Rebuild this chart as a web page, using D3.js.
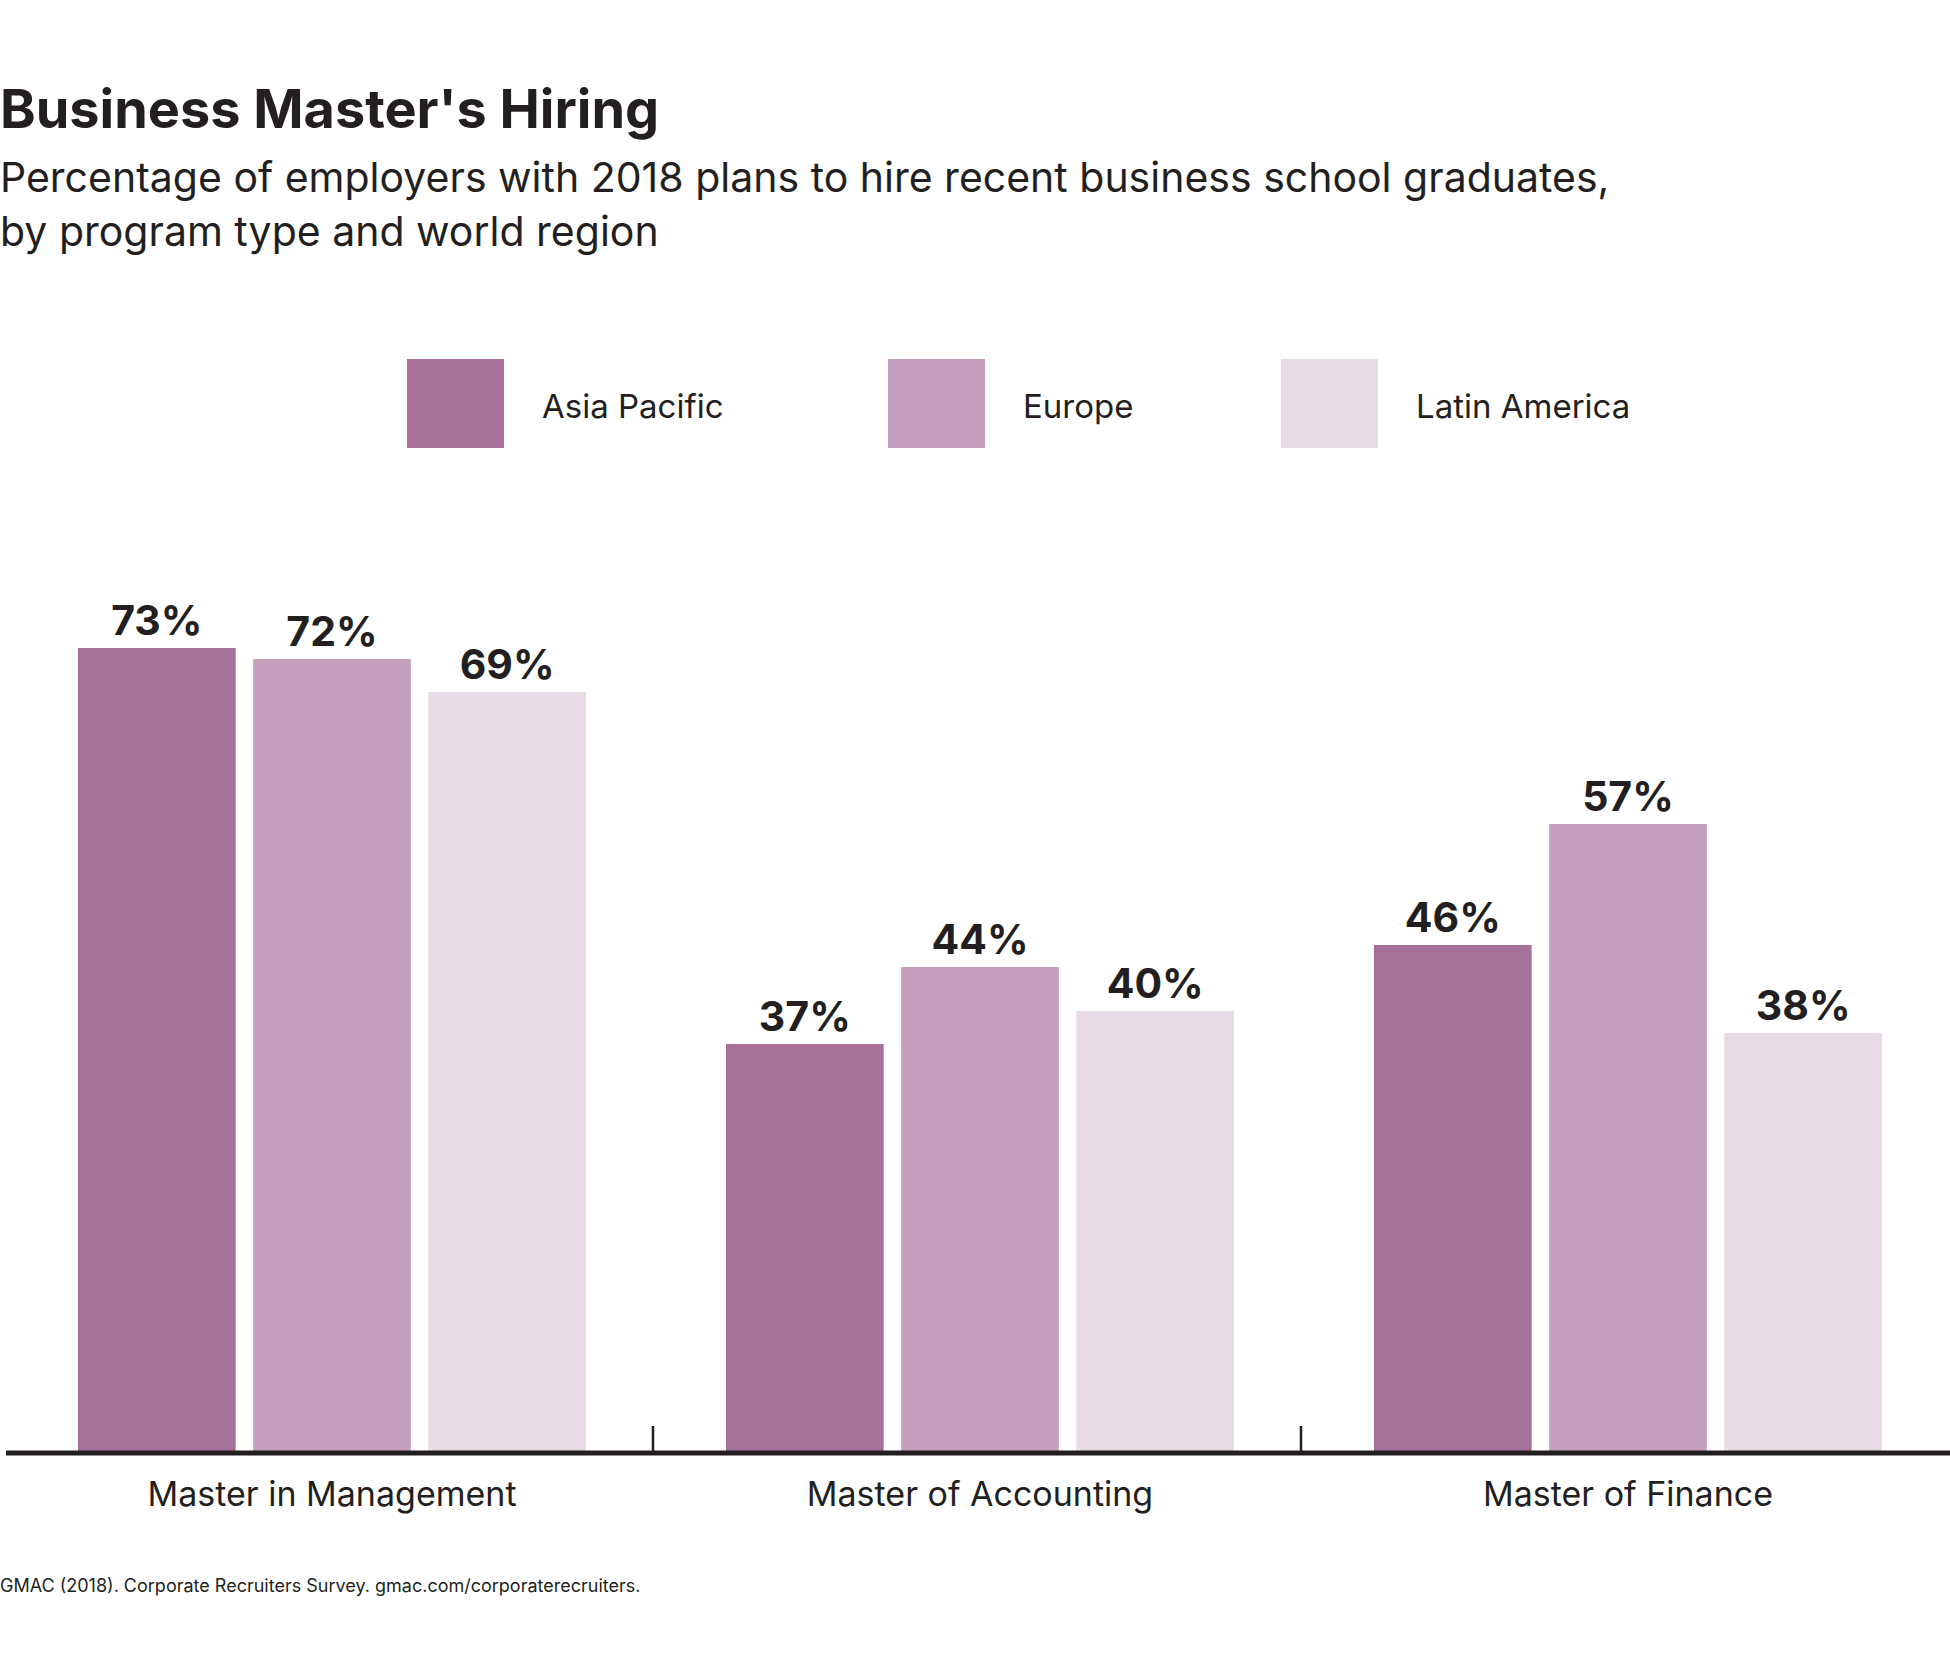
<!DOCTYPE html>
<html><head><meta charset="UTF-8">
<script src="https://d3js.org/d3.v7.min.js"></script>
<style>body{margin:0;background:#fff}text{font-family:Inter,"Noto Sans",sans-serif;fill:#231f20}</style>
</head><body><svg id="c" width="1950" height="1668"></svg>
<script>
const categories = ["Master in Management", "Master of Accounting", "Master of Finance"];
const regions = ["Asia Pacific", "Europe", "Latin America"];
const asiaPacific = [73, 37, 46];
const europe = [72, 44, 57];
const latinAmerica = [69, 40, 38];
const colors = ["#a67099", "#c4a0bc", "#e8dbe5"];
const series = [asiaPacific, europe, latinAmerica];

const svg = d3.select("#c");
const base = 1451;
const x = d3.scaleBand().domain(categories).range([6, 1950]).paddingInner(0).paddingOuter(0);
const x1 = d3.scaleBand().domain(regions).range([72, 580]).paddingInner(0.1);
const y = d3.scaleLinear().domain([0, 100]).range([base, base - 1100]);

svg.append("text").attr("x", 0).attr("y", 128).attr("font-size", 54).attr("font-weight", 700).text("Business Master's Hiring");
svg.append("text").attr("x", 0).attr("y", 192).attr("font-size", 41).text("Percentage of employers with 2018 plans to hire recent business school graduates,");
svg.append("text").attr("x", 0).attr("y", 246).attr("font-size", 41).text("by program type and world region");

const legX = [407, 888, 1281];
regions.forEach((r, i) => {
  svg.append("rect").attr("x", legX[i]).attr("y", 359).attr("width", 97).attr("height", 89).attr("fill", colors[i]);
  svg.append("text").attr("x", legX[i] + 135).attr("y", 418).attr("font-size", 33).text(r);
});

categories.forEach((c, ci) => {
  const off = ci * 648 + 6;
  series.forEach((s, si) => {
    const bx = off + x1(regions[si]);
    svg.append("rect").attr("x", bx).attr("y", y(s[ci])).attr("width", x1.bandwidth()).attr("height", base - y(s[ci])).attr("fill", colors[si]);
    svg.append("text").attr("x", bx + x1.bandwidth() / 2).attr("y", y(s[ci]) - 13).attr("text-anchor", "middle")
      .attr("font-size", 41).attr("font-weight", 700).text(s[ci] + "%");
  });
  svg.append("text").attr("x", off + 326).attr("y", 1506).attr("text-anchor", "middle").attr("font-size", 34).text(c);
});

svg.append("line").attr("x1", 6).attr("x2", 1950).attr("y1", base + 2).attr("y2", base + 2).attr("stroke", "#231f20").attr("stroke-width", 5);
[653, 1301].forEach(t => svg.append("line").attr("x1", t).attr("x2", t).attr("y1", base - 25).attr("y2", base).attr("stroke", "#231f20").attr("stroke-width", 2.5));

svg.append("text").attr("x", 0).attr("y", 1592).attr("font-size", 18).text("GMAC (2018). Corporate Recruiters Survey. gmac.com/corporaterecruiters.");
</script></body></html>
